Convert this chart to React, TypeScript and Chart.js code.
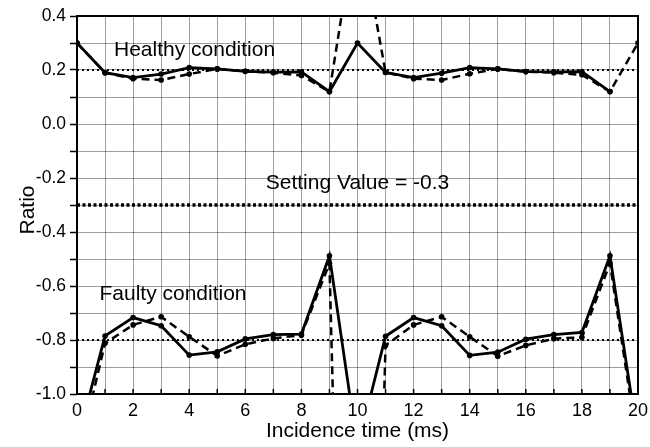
import React, { useEffect, useRef } from "react";
import { Chart, registerables } from "chart.js";

Chart.register(...registerables);

const times = [0, 1, 2, 3, 4, 5, 6, 7, 8, 9, 10, 11, 12, 13, 14, 15, 16, 17, 18, 19, 20];
const healthySolid = [0.3, 0.19, 0.172, 0.185, 0.209, 0.204, 0.195, 0.192, 0.193, 0.12, 0.3, 0.191, 0.172, 0.188, 0.209, 0.204, 0.194, 0.193, 0.194, 0.12, null];
const healthyDashed = [0.3, 0.19, 0.168, 0.163, 0.185, 0.204, 0.195, 0.19, 0.18, 0.12, 0.77, 0.191, 0.168, 0.163, 0.186, 0.204, 0.194, 0.19, 0.182, 0.12, 0.3];
const faultySolid = [-1.18, -0.785, -0.717, -0.747, -0.856, -0.844, -0.796, -0.78, -0.778, -0.488, -1.2, -0.786, -0.717, -0.747, -0.857, -0.845, -0.797, -0.78, -0.772, -0.488, -1.17];
const faultyDashed = [-1.25, -0.812, -0.744, -0.714, -0.788, -0.859, -0.816, -0.794, -0.782, -0.516, -4.5, -0.82, -0.744, -0.714, -0.788, -0.86, -0.82, -0.795, -0.79, -0.516, -1.2];
const healthyRef = 0.2;
const faultyRef = -0.8;
const settingValue = -0.3;
const xRange = [0, 20];
const yRange = [-1.0, 0.4];

const FONT = "'Liberation Sans', Arial, sans-serif";

const toXY = (vals: (number | null)[]) => times.map((t, i) => ({ x: t, y: vals[i] }));
const hline = (v: number) => [{ x: xRange[0], y: v }, { x: xRange[1], y: v }];

const annotations = [
  { text: "Healthy condition", x: 1.32, y: 0.272, align: "left" },
  { text: "Setting Value = -0.3", x: 10.0, y: -0.218, align: "center" },
  { text: "Faulty condition", x: 0.8, y: -0.632, align: "left" },
];

const framePlugin = {
  id: "frame",
  afterDraw(chart: any) {
    const { ctx, chartArea } = chart;
    const xs = chart.scales.x;
    const ys = chart.scales.y;
    ctx.save();
    ctx.strokeStyle = "#000";
    ctx.lineWidth = 1.5;
    for (let t = xRange[0]; t <= xRange[1]; t++) {
      const px = xs.getPixelForValue(t);
      ctx.beginPath();
      ctx.moveTo(px, chartArea.bottom);
      ctx.lineTo(px, chartArea.bottom - 5);
      ctx.stroke();
    }
    ctx.lineWidth = 2;
    ctx.strokeRect(chartArea.left, chartArea.top, chartArea.right - chartArea.left, chartArea.bottom - chartArea.top);
    ctx.fillStyle = "#000";
    ctx.font = `21px ${FONT}`;
    ctx.textBaseline = "middle";
    for (const a of annotations) {
      ctx.textAlign = a.align as CanvasTextAlign;
      ctx.fillText(a.text, xs.getPixelForValue(a.x), ys.getPixelForValue(a.y));
    }
    ctx.textAlign = "center";
    ctx.fillText("Incidence time (ms)", (chartArea.left + chartArea.right) / 2, 431);
    ctx.translate(28, (chartArea.top + chartArea.bottom) / 2 + 5);
    ctx.rotate(-Math.PI / 2);
    ctx.fillText("Ratio", 0, 0);
    ctx.restore();
  },
};

export default function App() {
  const ref = useRef<HTMLCanvasElement>(null);
  useEffect(() => {
    document.body.style.margin = "0";
    const line = (data: any, dash: number[], width: number, radius: number) => ({
      data,
      borderColor: "#000",
      backgroundColor: "#000",
      borderWidth: width,
      borderDash: dash,
      pointRadius: radius,
      pointBorderWidth: 0,
      pointBackgroundColor: "#000",
      tension: 0,
      fill: false,
    });
    const chart = new Chart(ref.current!, {
      type: "line",
      data: {
        datasets: [
          line(hline(healthyRef), [2, 3], 2, 0),
          line(hline(faultyRef), [2, 3], 2, 0),
          line(hline(settingValue), [3, 2.5], 3.5, 0),
          line(toXY(healthyDashed), [8, 5], 2.5, 2.8),
          line(toXY(faultyDashed), [8, 5], 2.5, 2.8),
          line(toXY(healthySolid), [], 2.8, 2.8),
          line(toXY(faultySolid), [], 2.8, 2.8),
        ] as any,
      },
      options: {
        animation: false,
        responsive: false,
        layout: { padding: { top: 16, right: 12, left: 0, bottom: 0 } },
        plugins: { legend: { display: false }, tooltip: { enabled: false } },
        scales: {
          x: {
            type: "linear",
            min: xRange[0],
            max: xRange[1],
            afterFit: (s: any) => { s.height = 53; s.paddingLeft = 0; s.paddingRight = 0; },
            border: { display: false },
            grid: { color: "rgba(0,0,0,0.38)", lineWidth: 1, drawTicks: false },
            ticks: {
              stepSize: 1,
              autoSkip: false,
              maxRotation: 0,
              padding: 6,
              color: "#000",
              font: { family: FONT, size: 18 },
              callback: (v: any) => (Math.round(v) % 2 === 0 ? String(Math.round(v)) : ""),
            },
          },
          y: {
            type: "linear",
            min: yRange[0],
            max: yRange[1],
            afterFit: (s: any) => { s.width = 77; s.paddingTop = 0; s.paddingBottom = 0; },
            border: { display: false },
            grid: { color: "rgba(0,0,0,0.38)", lineWidth: 1, drawTicks: true, tickLength: 7, tickColor: "#000", tickWidth: 1.5 },
            ticks: {
              stepSize: 0.1,
              autoSkip: false,
              padding: 4,
              color: "#000",
              font: { family: FONT, size: 17.5 },
              callback: (v: any) => {
                const n = Math.round(Number(v) * 10);
                if (n % 2 !== 0) return "";
                const val = n / 10;
                return (Math.abs(val) < 1e-9 ? 0 : val).toFixed(1);
              },
            },
          },
        },
      },
      plugins: [framePlugin],
    });
    return () => chart.destroy();
  }, []);
  return (
    <div style={{ width: 650, height: 447 }}>
      <canvas ref={ref} width={650} height={447} />
    </div>
  );
}
